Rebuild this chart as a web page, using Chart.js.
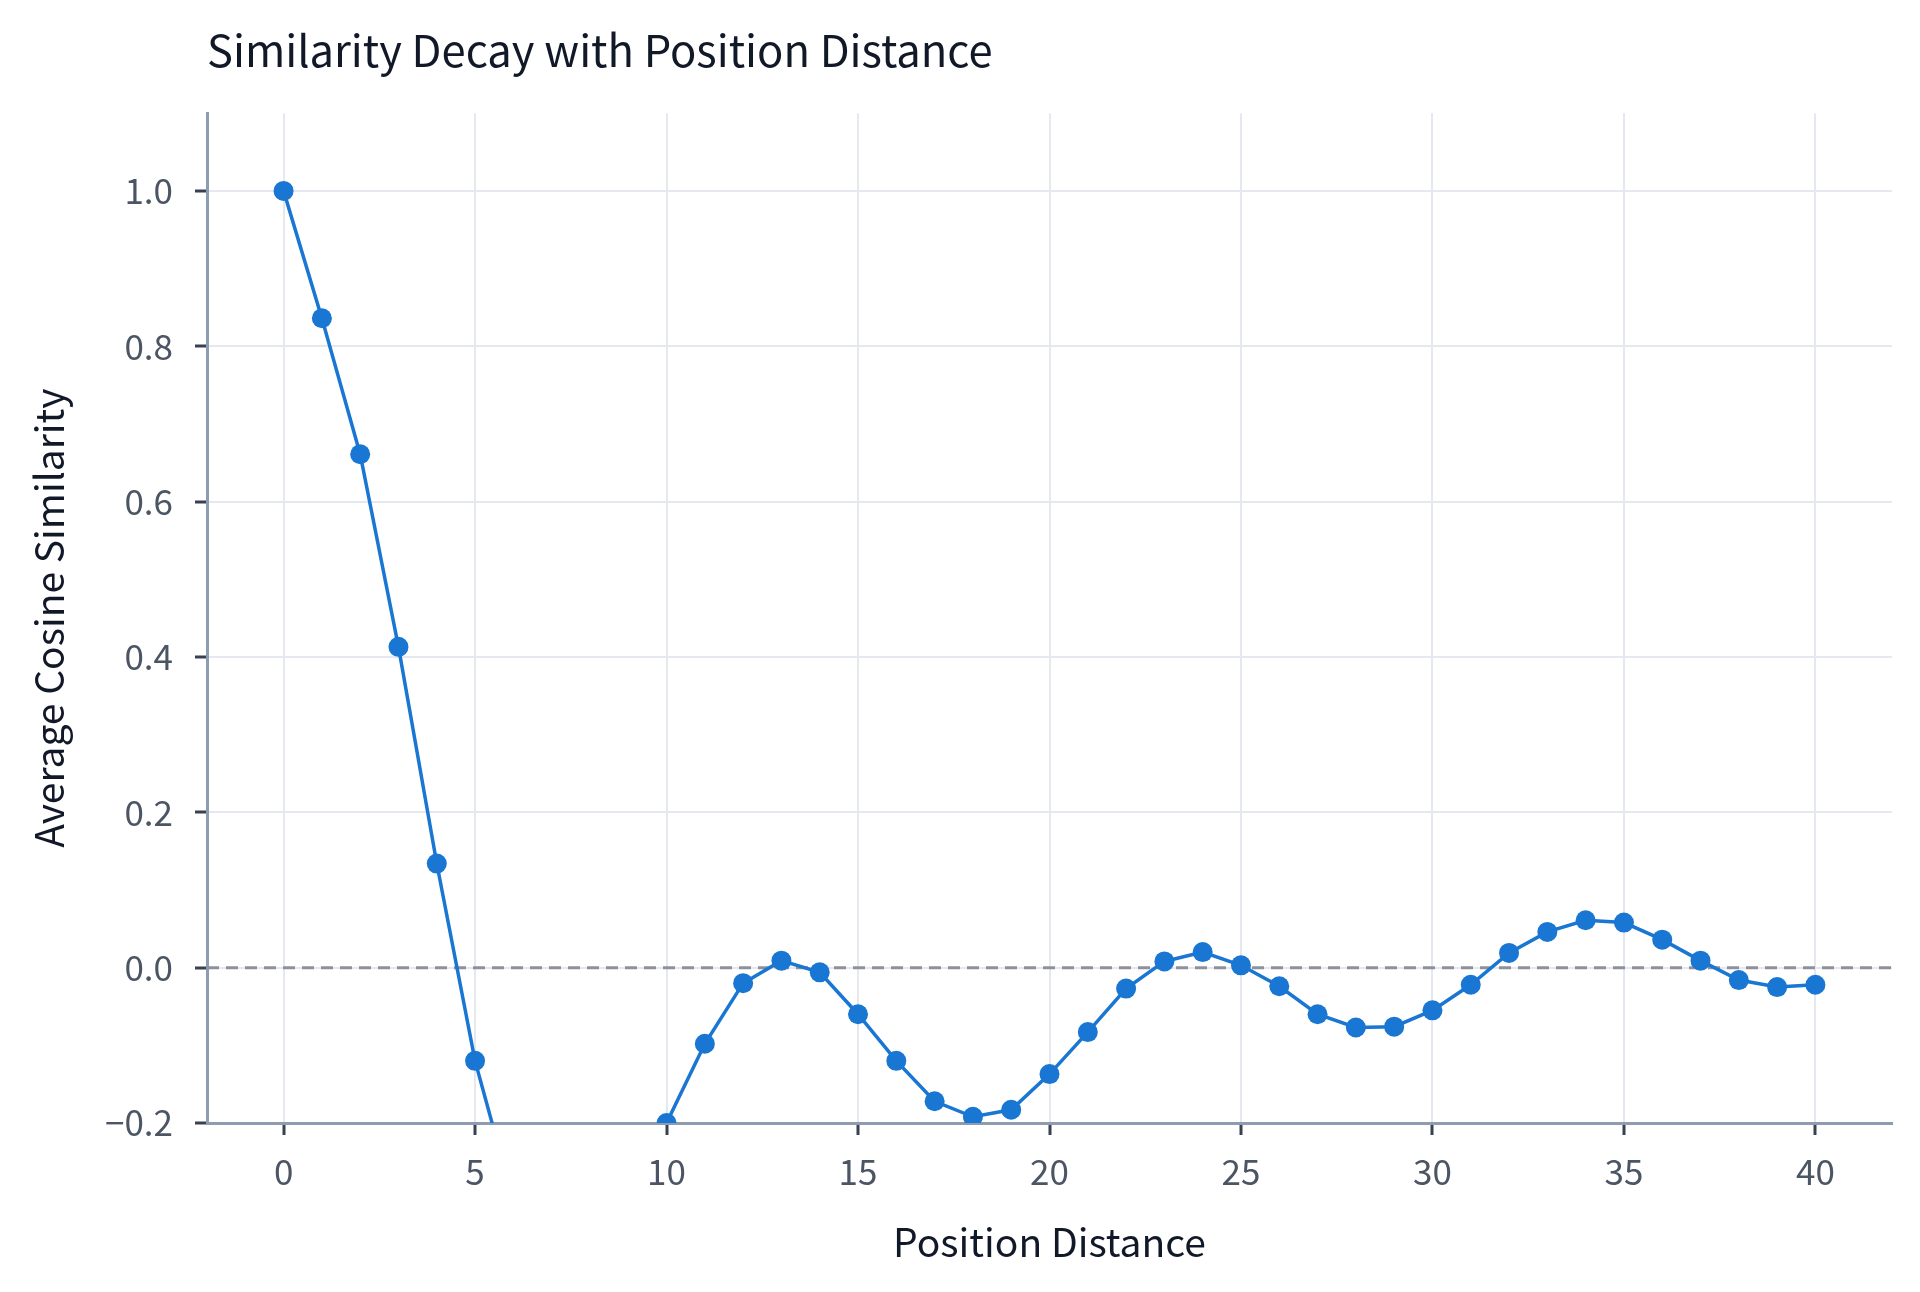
<!DOCTYPE html>
<html>
<head>
<meta charset="utf-8">
<script src="https://cdn.jsdelivr.net/npm/chart.js@4.4.1/dist/chart.umd.min.js"></script>
<style>
  html, body { margin: 0; padding: 0; background: #ffffff; }
  #wrap { width: 1920px; height: 1292px; }
</style>
</head>
<body>
<div id="wrap"><canvas id="decayChart"></canvas></div>
<script>
// Similarity decay chart (Chart.js)
const distances = [0, 1, 2, 3, 4, 5, 6, 7, 8, 9, 10, 11, 12, 13, 14, 15, 16, 17, 18, 19, 20,
    21, 22, 23, 24, 25, 26, 27, 28, 29, 30, 31, 32, 33, 34, 35, 36, 37, 38, 39, 40];
const similarity = [1.000, 0.836, 0.661, 0.413, 0.134, -0.120, -0.300, -0.360, -0.370, -0.310, -0.200,
    -0.098, -0.020, 0.009, -0.006, -0.060, -0.120, -0.172, -0.192, -0.183, -0.137,
    -0.083, -0.027, 0.008, 0.020, 0.003, -0.024, -0.060, -0.077, -0.076, -0.055,
    -0.022, 0.019, 0.046, 0.061, 0.058, 0.036, 0.009, -0.016, -0.025, -0.022];
const xTicks = [0, 5, 10, 15, 20, 25, 30, 35, 40];
const yTicks = [-0.2, 0.0, 0.2, 0.4, 0.6, 0.8, 1.0];

const FONT = '"Noto Sans CJK KR", "Noto Sans", sans-serif';

const zeroLine = {
    id: 'zeroLine',
    beforeDatasetsDraw(chart) {
        const { ctx, chartArea, scales } = chart;
        const y = scales.y.getPixelForValue(0);
        ctx.save();
        ctx.strokeStyle = '#8e919c';
        ctx.lineWidth = 3;
        ctx.setLineDash([12, 7]);
        ctx.beginPath();
        ctx.moveTo(chartArea.left, y);
        ctx.lineTo(chartArea.right, y);
        ctx.stroke();
        ctx.restore();
    }
};

const ctx = document.getElementById('decayChart');
new Chart(ctx, {
    type: 'line',
    data: {
        datasets: [{
            label: 'Average Cosine Similarity',
            data: distances.map((d, i) => ({ x: d, y: similarity[i] })),
            borderColor: '#1976d2',
            backgroundColor: '#1976d2',
            borderWidth: 3.5,
            pointRadius: 10,
            pointBorderWidth: 0,
            pointBackgroundColor: '#1976d2',
            tension: 0,
        }]
    },
    options: {
        responsive: true,
        maintainAspectRatio: false,
        animation: false,
        layout: { padding: { left: 0, right: 28, top: 0, bottom: 0 } },
        plugins: {
            legend: { display: false },
            tooltip: { enabled: false },
            title: {
                display: true,
                text: 'Similarity Decay with Position Distance',
                align: 'start',
                fullSize: false,
                color: '#111827',
                font: { family: FONT, size: 43.5, weight: 'normal' },
                padding: { top: 24, bottom: 37 }
            }
        },
        scales: {
            x: {
                type: 'linear',
                min: -2,
                max: 42,
                afterBuildTicks: s => { s.ticks = xTicks.map(v => ({ value: v })); },
                afterFit: s => { s.height = 169; },
                ticks: { color: '#4b5563', font: { family: FONT, size: 35 }, padding: 16 },
                grid: { color: '#e5e9ef', lineWidth: 2, tickColor: '#374151', tickLength: 12, tickWidth: 3 },
                border: { color: '#8f9bb0', width: 3 },
                title: {
                    display: true,
                    text: 'Position Distance',
                    color: '#111827',
                    font: { family: FONT, size: 39 },
                    padding: { top: 0, bottom: 26 }
                }
            },
            y: {
                type: 'linear',
                min: -0.2,
                max: 1.1,
                afterBuildTicks: s => { s.ticks = yTicks.map(v => ({ value: v })); },
                afterFit: s => { s.width = 207; },
                ticks: {
                    color: '#4b5563',
                    font: { family: FONT, size: 35 },
                    padding: 22,
                    callback: v => v.toFixed(1).replace('-', '\u2212')
                },
                grid: { color: '#e5e9ef', lineWidth: 2, tickColor: '#374151', tickLength: 12, tickWidth: 3 },
                border: { color: '#8f9bb0', width: 3 },
                title: {
                    display: true,
                    text: 'Average Cosine Similarity',
                    color: '#111827',
                    font: { family: FONT, size: 39 },
                    padding: { top: 26, bottom: 0 }
                }
            }
        }
    },
    plugins: [zeroLine]
});
</script>
</body>
</html>
